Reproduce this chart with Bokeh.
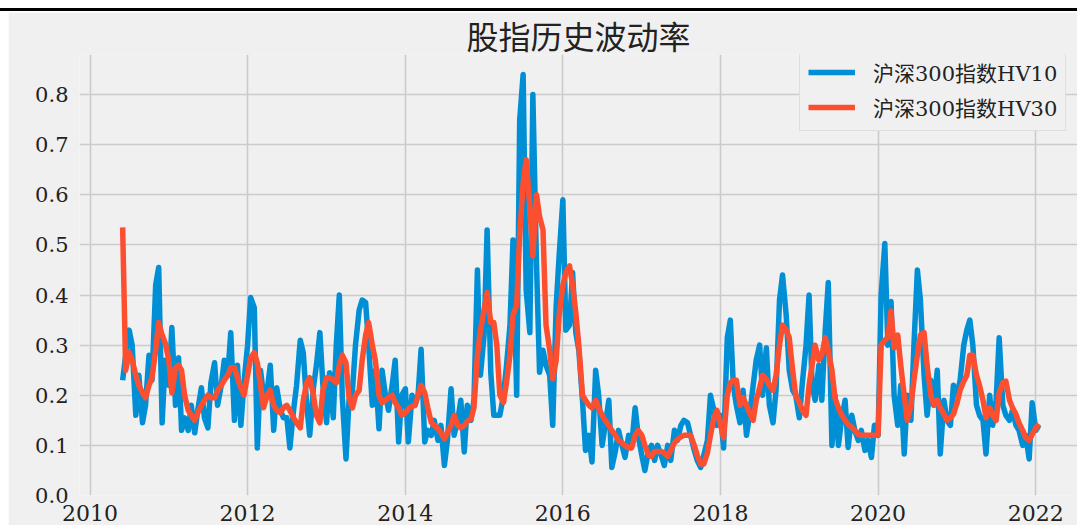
import pandas as pd
from bokeh.plotting import figure
from bokeh.models import (ColumnDataSource, Range1d, FixedTicker, DatetimeTickFormatter,
                          PrintfTickFormatter, Legend, LegendItem, Div)
from bokeh.layouts import column
from bokeh.embed import file_html
from bokeh.resources import INLINE

title_text = "股指历史波动率"
label_hv10 = "沪深300指数HV10"
label_hv30 = "沪深300指数HV30"

# semi-monthly observations starting June 2010
start_date = "2010-06-01"

hv10 = [
    0.23, 0.28, 0.33, 0.30, 0.16, 0.24, 0.145, 0.18, 0.28, 0.23,
    0.42, 0.455, 0.145, 0.27, 0.22, 0.335, 0.18, 0.275, 0.13, 0.155,
    0.13, 0.18, 0.125, 0.17, 0.215, 0.155, 0.135, 0.225, 0.265, 0.18,
    0.22, 0.27, 0.24, 0.325, 0.15, 0.26, 0.14, 0.225, 0.30, 0.395,
    0.375, 0.095, 0.25, 0.20, 0.21, 0.26, 0.13, 0.215, 0.17, 0.155,
    0.155, 0.095, 0.17, 0.22, 0.31, 0.285, 0.18, 0.12, 0.215, 0.26,
    0.325, 0.22, 0.145, 0.245, 0.155, 0.30, 0.40, 0.195, 0.073, 0.19,
    0.21, 0.30, 0.37, 0.39, 0.385, 0.30, 0.18, 0.25, 0.133, 0.25,
    0.20, 0.17, 0.22, 0.27, 0.107, 0.20, 0.213, 0.107, 0.20, 0.18,
    0.20, 0.292, 0.107, 0.13, 0.12, 0.15, 0.11, 0.14, 0.06, 0.11,
    0.213, 0.12, 0.15, 0.19, 0.087, 0.18, 0.15, 0.19, 0.45, 0.24,
    0.32, 0.53, 0.245, 0.16, 0.16, 0.16, 0.20, 0.26, 0.34, 0.51,
    0.20, 0.75, 0.84, 0.41, 0.325, 0.80, 0.46, 0.246, 0.29, 0.26,
    0.24, 0.14, 0.378, 0.48, 0.59, 0.33, 0.34, 0.445, 0.325, 0.29,
    0.19, 0.09, 0.12, 0.067, 0.25, 0.20, 0.10, 0.14, 0.19, 0.056,
    0.09, 0.13, 0.10, 0.076, 0.12, 0.10, 0.175, 0.12, 0.08, 0.05,
    0.09, 0.10, 0.07, 0.10, 0.08, 0.06, 0.10, 0.07, 0.13, 0.11,
    0.14, 0.15, 0.145, 0.12, 0.09, 0.07, 0.056, 0.08, 0.11, 0.20,
    0.17, 0.14, 0.16, 0.095, 0.315, 0.35, 0.22, 0.18, 0.145, 0.21,
    0.12, 0.16, 0.22, 0.27, 0.30, 0.20, 0.295, 0.18, 0.145, 0.21,
    0.39, 0.44, 0.36, 0.25, 0.21, 0.20, 0.155, 0.225, 0.30, 0.40,
    0.22, 0.19, 0.26, 0.19, 0.33, 0.425, 0.10, 0.20, 0.10, 0.15,
    0.19, 0.096, 0.16, 0.13, 0.11, 0.13, 0.09, 0.11, 0.076, 0.14,
    0.12, 0.40, 0.503, 0.30, 0.387, 0.20, 0.14, 0.22, 0.083, 0.20,
    0.15, 0.30, 0.45, 0.39, 0.24, 0.16, 0.23, 0.18, 0.25, 0.083,
    0.19, 0.15, 0.14, 0.22, 0.20, 0.23, 0.30, 0.33, 0.35, 0.30,
    0.18, 0.16, 0.15, 0.083, 0.20, 0.14, 0.19, 0.315, 0.18, 0.16,
    0.15, 0.17, 0.14, 0.13, 0.10, 0.12, 0.073, 0.185, 0.13, 0.14,
]

hv30 = [
    0.535, 0.25, 0.285, 0.27, 0.24, 0.22, 0.205, 0.195, 0.22, 0.235,
    0.29, 0.345, 0.32, 0.305, 0.27, 0.205, 0.255, 0.26, 0.25, 0.20,
    0.17, 0.16, 0.15, 0.165, 0.18, 0.19, 0.20, 0.195, 0.195, 0.21,
    0.22, 0.23, 0.24, 0.255, 0.255, 0.235, 0.215, 0.20, 0.24, 0.275,
    0.285, 0.265, 0.22, 0.175, 0.20, 0.21, 0.18, 0.17, 0.165, 0.175,
    0.18, 0.17, 0.155, 0.145, 0.135, 0.19, 0.225, 0.235, 0.20, 0.16,
    0.145, 0.21, 0.235, 0.235, 0.23, 0.225, 0.26, 0.28, 0.265, 0.195,
    0.175, 0.20, 0.21, 0.27, 0.32, 0.345, 0.30, 0.27, 0.20, 0.185,
    0.19, 0.195, 0.20, 0.185, 0.175, 0.16, 0.165, 0.173, 0.178, 0.18,
    0.20, 0.22, 0.205, 0.175, 0.146, 0.14, 0.133, 0.125, 0.113, 0.125,
    0.14, 0.16, 0.14, 0.135, 0.14, 0.148, 0.153, 0.175, 0.28, 0.33,
    0.37, 0.405, 0.345, 0.345, 0.30, 0.20, 0.186, 0.226, 0.28, 0.36,
    0.38, 0.52, 0.624, 0.67, 0.578, 0.478, 0.60, 0.557, 0.53, 0.34,
    0.29, 0.233, 0.27, 0.36, 0.42, 0.445, 0.458, 0.42, 0.365, 0.30,
    0.20, 0.19, 0.18, 0.175, 0.19, 0.175, 0.16, 0.15, 0.14, 0.13,
    0.12, 0.11, 0.105, 0.10, 0.095, 0.095, 0.12, 0.13, 0.12, 0.10,
    0.08, 0.078, 0.088, 0.088, 0.088, 0.085, 0.078, 0.09, 0.105, 0.112,
    0.117, 0.12, 0.12, 0.12, 0.10, 0.08, 0.063, 0.063, 0.085, 0.12,
    0.155, 0.17, 0.14, 0.115, 0.20, 0.225, 0.23, 0.23, 0.18, 0.195,
    0.18, 0.165, 0.15, 0.19, 0.215, 0.24, 0.232, 0.22, 0.21, 0.24,
    0.30, 0.34, 0.33, 0.315, 0.25, 0.20, 0.185, 0.17, 0.16, 0.22,
    0.26, 0.30, 0.27, 0.28, 0.315, 0.29, 0.25, 0.195, 0.175, 0.162,
    0.15, 0.142, 0.136, 0.13, 0.122, 0.12, 0.12, 0.12, 0.12, 0.12,
    0.122, 0.30, 0.31, 0.315, 0.368, 0.295, 0.32, 0.26, 0.20, 0.15,
    0.18, 0.23, 0.28, 0.32, 0.325, 0.26, 0.20, 0.18, 0.19, 0.175,
    0.162, 0.15, 0.155, 0.162, 0.185, 0.21, 0.228, 0.24, 0.28, 0.28,
    0.24, 0.22, 0.19, 0.155, 0.175, 0.16, 0.15, 0.205, 0.225, 0.228,
    0.19, 0.175, 0.162, 0.145, 0.13, 0.115, 0.11, 0.122, 0.135, 0.143,
]

year_ticks = [2010, 2012, 2014, 2016, 2018, 2020, 2022]
y_ticks = [0.0, 0.1, 0.2, 0.3, 0.4, 0.5, 0.6, 0.7, 0.8]

dates = pd.date_range(start_date, periods=len(hv10), freq="SMS")
src = ColumnDataSource(data=dict(date=dates, hv10=hv10, hv30=hv30))

BG = "#f0f0f0"
GRID = "#cbcbcb"
TXT = "#222222"
SERIF = "DejaVu Serif, Noto Sans CJK SC"

p = figure(width=1069, height=513, x_axis_type="datetime",
           output_backend="svg", toolbar_location=None,
           x_range=Range1d(pd.Timestamp("2009-11-13"), pd.Timestamp("2022-07-13")),
           y_range=Range1d(0, 0.88),
           min_border_left=71, min_border_right=0, min_border_top=41, min_border_bottom=30,
           background_fill_color=BG, border_fill_color=BG, outline_line_color=None,
           margin=(0, 0, 0, 8))

p.title.text = title_text
p.title.align = "center"
p.title.text_font = "Noto Sans CJK SC"
p.title.text_font_size = "32px"
p.title.text_font_style = "normal"
p.title.text_color = TXT
p.title.standoff = -6

r1 = p.line(x="date", y="hv10", source=src, line_color="#008fd5", line_width=5.5, line_join="round")
r2 = p.line(x="date", y="hv30", source=src, line_color="#fc4f30", line_width=5.5, line_join="round")

xt = FixedTicker(ticks=[pd.Timestamp(f"{y}-01-01").timestamp() * 1000 for y in year_ticks])
p.xaxis.ticker = xt
p.xaxis.formatter = DatetimeTickFormatter(years="%Y", months="%Y", days="%Y", hours="%Y",
                                          context=None)
p.yaxis.ticker = FixedTicker(ticks=y_ticks)
p.yaxis.formatter = PrintfTickFormatter(format="%.1f")
p.xgrid.ticker = xt
p.ygrid.ticker = FixedTicker(ticks=y_ticks)
for g in (p.xgrid, p.ygrid):
    g.grid_line_color = GRID
    g.grid_line_width = 1.6

for ax in (p.xaxis, p.yaxis):
    ax.axis_line_color = None
    ax.major_tick_line_color = None
    ax.minor_tick_line_color = None
    ax.major_label_text_font = "DejaVu Serif"
    ax.major_label_text_color = TXT
p.xaxis.major_label_text_font_size = "22px"
p.yaxis.major_label_text_font_size = "21px"
p.xaxis.major_label_standoff = 3
p.yaxis.major_label_standoff = 5

legend = Legend(items=[LegendItem(label=label_hv10, renderers=[r1]),
                       LegendItem(label=label_hv30, renderers=[r2])],
                location=(720, 364))
legend.label_text_font = SERIF
legend.label_text_font_size = "21px"
legend.label_text_color = TXT
legend.glyph_width = 47
legend.glyph_height = 24
legend.label_standoff = 18
legend.spacing = 5
legend.padding = 8
legend.border_line_color = "#cccccc"
legend.border_line_width = 1
legend.background_fill_color = BG
legend.background_fill_alpha = 1.0
p.add_layout(legend)

bar = Div(text="", width=1077, height=3, margin=(8, 0, 1, 0),
          styles={"background-color": "#000000"})
layout = column(bar, p, spacing=0)

open("out.html", "w").write(file_html(layout, INLINE))
